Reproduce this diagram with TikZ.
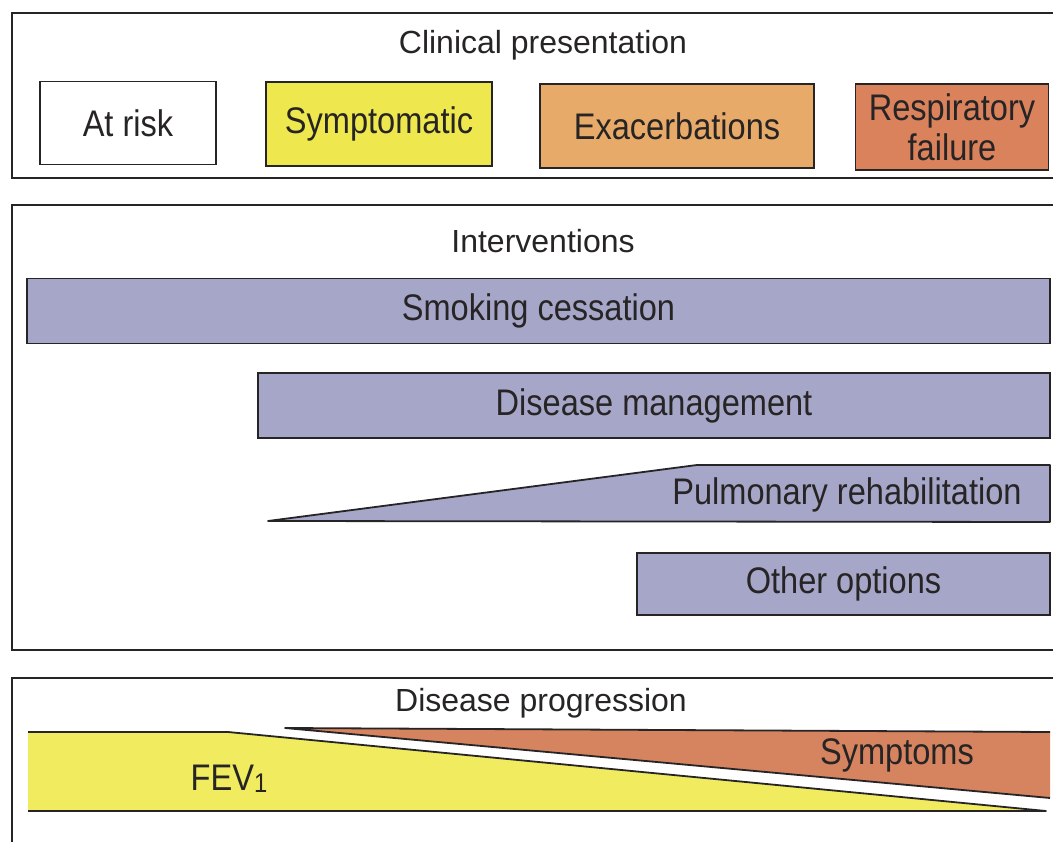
\documentclass[tikz,border=0pt]{standalone}
\usepackage{fontspec}
\setmainfont{Liberation Sans}
\newfontfamily\labelfont{Liberation Sans}[FakeStretch=0.88]
\usetikzlibrary{positioning}
\definecolor{inkgray}{RGB}{38,36,36}
\definecolor{symyellow}{RGB}{238,232,78}
\definecolor{exaorange}{RGB}{232,170,104}
\definecolor{failred}{RGB}{218,130,92}
\definecolor{barblue}{RGB}{166,166,200}
\definecolor{fevyellow}{RGB}{241,235,96}
\definecolor{symptred}{RGB}{214,132,96}
\tikzset{
    panel/.style={draw=inkgray,line width=2.4pt},
    paneltitle/.style={font=\fontsize{32}{36}\selectfont,text=inkgray,inner sep=0pt},
    stagebox/.style={rectangle,draw=inkgray,line width=1.8pt,align=center,inner sep=0pt,
        font=\labelfont\fontsize{37}{40}\selectfont,text=inkgray},
    barbox/.style={stagebox,fill=barblue},
    shapeline/.style={draw=inkgray,line width=1.8pt,line join=round},
    barlabel/.style={font=\labelfont\fontsize{37}{40}\selectfont,text=inkgray,inner sep=0pt}
}
\begin{document}
\begin{tikzpicture}[x=1pt,y=-1pt]
    \useasboundingbox (0,0) rectangle (1053,842);
    \clip (0,0) rectangle (1053,842);
    % clinical presentation
    \draw[panel] (12,13) rectangle (1070,178);
    \node[paneltitle] (clinical) at (543,45) {Clinical presentation};
    \node[stagebox,minimum width=176pt,minimum height=83pt] (atrisk) at (128,123) {At risk};
    \node[stagebox,fill=symyellow,minimum width=226pt,minimum height=84pt] (symptomatic) at (379,124) {Symptomatic};
    \node[stagebox,fill=exaorange,minimum width=274pt,minimum height=84pt] (exacerb) at (677,126) {Exacerbations};
    \node[stagebox,fill=failred,minimum width=193pt,minimum height=86pt] (respfail) at (952,127) {Respiratory\\failure};
    % interventions
    \draw[panel] (12,205) rectangle (1070,650);
    \node[paneltitle] (interventions) at (543,241) {Interventions};
    \node[barbox,minimum width=1023pt,minimum height=65pt] (smoking) at (538.5,311) {Smoking cessation};
    \node[barbox,minimum width=792pt,minimum height=65pt] (management) at (654,405.5) {Disease management};
    \coordinate (rehabtip) at (268,521);
    \coordinate (rehabtop) at (697,465);
    \coordinate (rehabne) at (1050,465);
    \coordinate (rehabse) at (1050,522);
    \filldraw[shapeline,fill=barblue] (rehabtip) -- (rehabtop) -- (rehabne) -- (rehabse) -- cycle;
    \node[barlabel] (rehab) at (847,495) {Pulmonary rehabilitation};
    \node[barbox,minimum width=413pt,minimum height=62pt] (other) at (843.5,584) {Other options};
    % disease progression
    \draw[panel] (12,678) rectangle (1070,860);
    \node[paneltitle] (progression) at (541,703) {Disease progression};
    \coordinate (fevnw) at (28,732);
    \coordinate (fevknee) at (228,732);
    \coordinate (fevtip) at (1046,811);
    \coordinate (fevsw) at (28,811);
    \fill[fevyellow] (fevnw) -- (fevknee) -- (fevtip) -- (fevsw) -- cycle;
    \draw[shapeline] (fevnw) -- (fevknee) -- (fevtip) -- (fevsw);
    \node[barlabel] (fev) at (229,779) {FEV\raisebox{-0.12ex}{\fontsize{27}{27}\selectfont 1}};
    \coordinate (symptip) at (285,728);
    \coordinate (sympne) at (1050,732);
    \coordinate (sympse) at (1050,798);
    \fill[symptred] (symptip) -- (sympne) -- (sympse) -- cycle;
    \draw[shapeline] (sympne) -- (symptip) -- (sympse);
    \node[barlabel] (symptoms) at (897,755) {Symptoms};
\end{tikzpicture}
\end{document}
